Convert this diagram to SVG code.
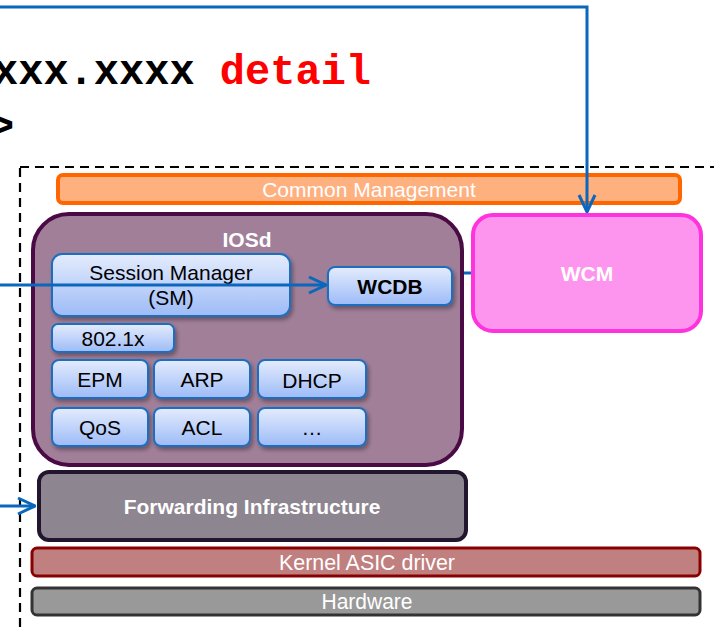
<svg xmlns="http://www.w3.org/2000/svg" width="714" height="629" viewBox="0 0 714 629">
  <defs>
    <linearGradient id="boxGrad" x1="0" y1="0" x2="0" y2="1">
      <stop offset="0" stop-color="#E4ECFD"/>
      <stop offset="1" stop-color="#9DBBF7"/>
    </linearGradient>
    <filter id="shadow" x="-10%" y="-10%" width="130%" height="140%">
      <feDropShadow dx="2" dy="3" stdDeviation="2" flood-color="#000" flood-opacity="0.35"/>
    </filter>
    <marker id="arrowBig" viewBox="0 0 20 20" refX="19" refY="10" markerWidth="20" markerHeight="20" markerUnits="userSpaceOnUse" orient="auto">
      <path d="M2,2 L19,10 L2,18" fill="none" stroke="#0A67BE" stroke-width="3"/>
    </marker>
  </defs>
  <style>
    .cli { font-family: "Liberation Mono", "Courier New", monospace; font-weight: bold; font-size: 42px; }
    .blue { fill: url(#boxGrad); stroke: #1F6EC1; stroke-width: 2; filter: url(#shadow); }
    .lbl { font-family: "Liberation Sans", Arial, sans-serif; font-size: 21px; fill: #000; text-anchor: middle; }
    .wlbl { font-family: "Liberation Sans", Arial, sans-serif; font-size: 21px; fill: #fff; text-anchor: middle; }
    .narrow { font-family: "Liberation Sans Narrow", "Liberation Sans", Arial, sans-serif; font-size: 22px; fill: #fff; text-anchor: middle; }
    .bold { font-weight: bold; }
    .conn { fill: none; stroke: #0A67BE; stroke-width: 3; }
  </style>

  <rect width="714" height="629" fill="#fff"/>

  <!-- command line text -->
  <text class="cli" x="-7" y="84"><tspan fill="#000">xxx.xxxx </tspan><tspan fill="#FF0000">detail</tspan></text>
  <text class="cli" x="-11" y="139" fill="#000">&gt;</text>

  <!-- system boundary -->
  <rect x="20" y="167" width="720" height="500" fill="none" stroke="#000" stroke-width="2.2" stroke-dasharray="9,6"/>

  <!-- link from WCDB to WCM (runs behind IOSd) -->
  <g id="connectors-back">
    <line class="conn" x1="440" y1="273" x2="472" y2="273"/>
  </g>

  <g id="common-management">
    <rect x="58" y="175" width="622" height="28" rx="5" fill="#FFB07F" stroke="#FF6600" stroke-width="4"/>
    <text class="wlbl" x="369" y="197">Common Management</text>
  </g>

  <g id="iosd">
    <rect x="33" y="214" width="429" height="251" rx="36" fill="#A17F99" stroke="#4A0A44" stroke-width="4"/>
    <text class="wlbl bold" x="247" y="247">IOSd</text>
  </g>

  <g id="wcm">
    <rect x="473" y="215" width="228" height="116" rx="20" fill="#FD95EE" stroke="#FF33DD" stroke-width="4"/>
    <text class="wlbl bold" x="587" y="281">WCM</text>
  </g>

  <g id="session-manager">
    <rect class="blue" x="52" y="254" width="238" height="62" rx="10"/>
    <text class="lbl" x="171" y="280">Session Manager</text>
    <text class="lbl" x="171" y="305">(SM)</text>
  </g>

  <g id="wcdb">
    <rect class="blue" x="328" y="267" width="124" height="38" rx="7"/>
    <text class="lbl bold" x="390" y="294">WCDB</text>
  </g>

  <g id="dot1x">
    <rect class="blue" x="52" y="324" width="122" height="28" rx="6"/>
    <text class="lbl" x="113" y="346">802.1x</text>
  </g>

  <g id="epm">
    <rect class="blue" x="52" y="360" width="96" height="38" rx="7"/>
    <text class="lbl" x="100" y="387">EPM</text>
  </g>
  <g id="arp">
    <rect class="blue" x="154" y="360" width="96" height="38" rx="7"/>
    <text class="lbl" x="202" y="387">ARP</text>
  </g>
  <g id="dhcp">
    <rect class="blue" x="258" y="360" width="108" height="38" rx="7"/>
    <text class="lbl" x="312" y="388">DHCP</text>
  </g>
  <g id="qos">
    <rect class="blue" x="52" y="408" width="96" height="38" rx="7"/>
    <text class="lbl" x="100" y="435">QoS</text>
  </g>
  <g id="acl">
    <rect class="blue" x="154" y="408" width="96" height="38" rx="7"/>
    <text class="lbl" x="202" y="435">ACL</text>
  </g>
  <g id="more">
    <rect class="blue" x="258" y="408" width="108" height="38" rx="7"/>
    <text class="lbl" x="312" y="435">…</text>
  </g>

  <g id="forwarding">
    <rect x="39" y="472" width="427" height="68" rx="10" fill="#8D8590" stroke="#22152E" stroke-width="4"/>
    <text class="wlbl bold" x="252" y="514">Forwarding Infrastructure</text>
  </g>

  <g id="kernel-driver">
    <rect x="32" y="548" width="668" height="28" rx="5" fill="#C08080" stroke="#880000" stroke-width="3"/>
    <text class="narrow" x="367" y="570" textLength="176" lengthAdjust="spacingAndGlyphs">Kernel ASIC driver</text>
  </g>

  <g id="hardware">
    <rect x="32" y="588" width="668" height="27" rx="5" fill="#999999" stroke="#333333" stroke-width="3"/>
    <text class="narrow" x="367" y="609" textLength="91" lengthAdjust="spacingAndGlyphs">Hardware</text>
  </g>

  <g id="connectors">
    <polyline class="conn" points="0,7 587,7 587,212" marker-end="url(#arrowBig)"/>
    <line class="conn" x1="0" y1="285" x2="326" y2="285" marker-end="url(#arrowBig)"/>
    <line class="conn" x1="0" y1="506" x2="35" y2="506" marker-end="url(#arrowBig)"/>
  </g>
</svg>
